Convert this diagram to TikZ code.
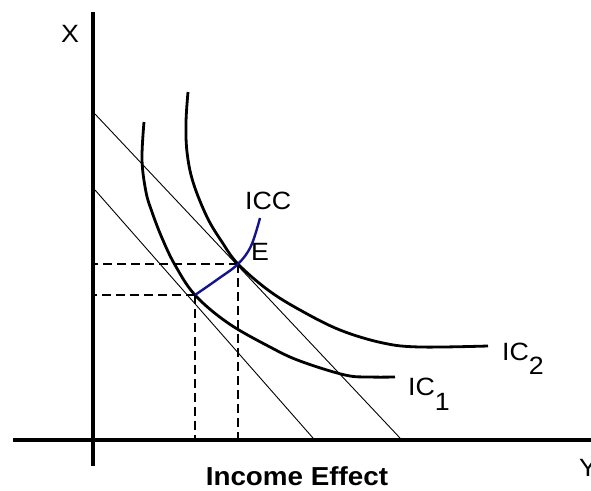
\documentclass[tikz,border=0pt]{standalone}
\usepackage{fontspec}
\setmainfont{Liberation Sans}[FakeStretch=1.07]
\definecolor{iccblue}{RGB}{20,20,140}
\begin{document}
\begin{tikzpicture}[x=1pt,y=-1pt,
  axisline/.style={line width=4pt},
  budget/.style={line width=0.9pt},
  icurve/.style={line width=2.8pt},
  guide/.style={line width=1.2pt, dash pattern=on 9pt off 5pt},
  icc/.style={line width=2.4pt, color=iccblue},
  lab/.style={font=\fontsize{25}{28}\selectfont, inner sep=0pt},
  boldlab/.style={font=\fontsize{26}{30}\selectfont\bfseries, inner sep=0pt}]
\useasboundingbox (0,0) rectangle (591,490);
\clip (0,0) rectangle (591,490);
% axes
\coordinate (O) at (93,440);
\coordinate (ytop) at (93,12);
\coordinate (ybot) at (93,466);
\coordinate (xleft) at (13,440);
\coordinate (xright) at (595,440);
\draw[axisline] (ytop) -- (ybot);
\draw[axisline] (xleft) -- (xright);
% budget lines
\coordinate (b1s) at (95,114);
\coordinate (b1e) at (400,438);
\coordinate (b2s) at (95,190);
\coordinate (b2e) at (313,438);
\draw[budget] (b1s) -- (b1e);
\draw[budget] (b2s) -- (b2e);
% equilibrium points
\coordinate (E) at (238,264);
\coordinate (A) at (195,295);
% dashed guides
\draw[guide] (E) -- (E -| b1s);
\draw[guide] (E) -- (E |- O);
\draw[guide] (A) -- (A -| b1s);
\draw[guide] (A) -- (A |- O);
% indifference curves
\draw[icurve] plot[smooth, tension=0.6] coordinates {(144,122) (142,160) (146,192) (152,212) (162,238) (175,265) (195,295) (228,323) (270,347) (300,361) (345,375) (370,377) (395,377)};
\draw[icurve] plot[smooth, tension=0.6] coordinates {(188,92) (186,122) (187,152) (193,182) (207,217) (222,242) (238,264) (268,290) (300,310) (340,330) (383,343) (420,347) (488,346)};
% ICC
\draw[icc] plot[smooth, tension=0.6] coordinates {(A) (218,279) (E) (251,246) (260,218)};
% labels
\node[lab, anchor=center] (xlab) at (70,34) {X};
\node[lab, anchor=base west] (ylab) at (579,476) {Y};
\node[lab, anchor=base west] (icclab) at (245,209) {ICC};
\node[lab, anchor=base west] (elab) at (251,260) {E};
\node[lab, anchor=base west] (ic2lab) at (502,360) {IC\raisebox{-14pt}{2}};
\node[lab, anchor=base west] (ic1lab) at (408,395) {IC\raisebox{-15pt}{1}};
\node[boldlab, anchor=base] (inc) at (297,485) {Income Effect};
\end{tikzpicture}
\end{document}
